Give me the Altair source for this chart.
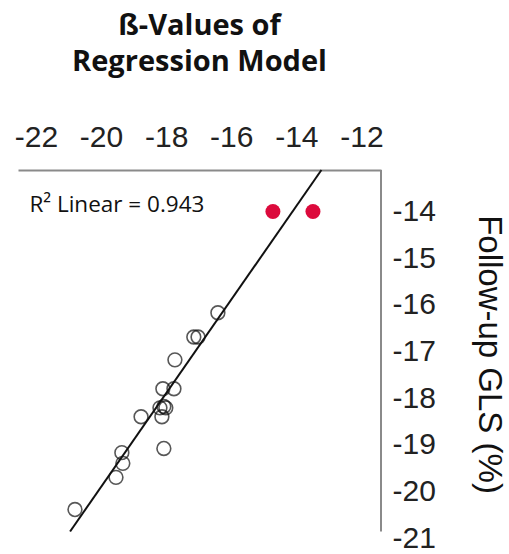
import altair as alt
import pandas as pd

# Baseline vs follow-up values (hollow markers)
base_x = [-16.41, -17.15, -17.02, -17.73, -18.10, -17.76, -18.07, -18.19,
          -18.01, -18.13, -18.77, -18.07, -19.36, -19.33, -19.54, -20.80]
follow_y = [-16.17, -16.69, -16.69, -17.18, -17.80, -17.80, -18.18, -18.21,
            -18.21, -18.40, -18.40, -19.08, -19.17, -19.40, -19.70, -20.39]

# Highlighted cases (filled red markers)
red_x = [-14.72, -13.49]
red_y = [-14.0, -14.0]

# Linear fit line endpoints
fit_x = [-20.95, -13.23]
fit_y = [-20.86, -13.11]

x_ticks = [-22, -20, -18, -16, -14, -12]
y_ticks = [-14, -15, -16, -17, -18, -19, -20, -21]
x_domain = [-22.55, -11.4]
y_domain = [-21.0, -13.11]
# vertical frame line on the right runs only down to the fit line's end
frame_y = [-13.11, -20.86]

r2_text = "R² Linear = 0.943"
r2_pos = (-22.2, -13.87)

pts = pd.DataFrame({"x": base_x, "y": follow_y})
red = pd.DataFrame({"x": red_x, "y": red_y})
fit = pd.DataFrame({"x": fit_x, "y": fit_y})
lab = pd.DataFrame({"x": [r2_pos[0]], "y": [r2_pos[1]], "t": [r2_text]})
frame = pd.DataFrame({"x": [x_domain[1]], "y": [frame_y[0]], "y2": [frame_y[1]]})

xs = alt.Scale(domain=x_domain, nice=False, zero=False)
ys = alt.Scale(domain=y_domain, nice=False, zero=False)

x_axis = alt.Axis(orient="top", values=x_ticks, title=None, grid=False,
                  ticks=False, tickSize=0, labelPadding=18,
                  labelExpr="'' + datum.value",
                  labelFont="Liberation Sans", labelFontSize=30,
                  labelColor="#222222", domainColor="#8a8a8a",
                  domainWidth=2)
y_axis = alt.Axis(orient="right", values=y_ticks, title="Follow-up GLS (%)",
                  grid=False, ticks=False, tickSize=0, labelPadding=11,
                  labelExpr="'' + datum.value", domain=False,
                  labelFont="Liberation Sans", labelFontSize=30,
                  labelColor="#222222", titleFont="Liberation Sans",
                  titleFontSize=33, titleFontWeight="normal",
                  titleColor="#111111", titlePadding=36)

X = alt.X("x:Q", scale=xs, axis=x_axis)
Y = alt.Y("y:Q", scale=ys, axis=y_axis)

edge = alt.Chart(frame).mark_rule(color="#8a8a8a", strokeWidth=2).encode(
    x=X, y=Y, y2="y2:Q")
line = alt.Chart(fit).mark_line(color="#111111", strokeWidth=2).encode(x=X, y=Y)
hollow = alt.Chart(pts).mark_point(shape="circle", filled=False,
                                   color="#111111", size=190,
                                   strokeWidth=1.6).encode(x=X, y=Y)
filled = alt.Chart(red).mark_point(shape="circle", filled=True,
                                   color="#dc0a3c", opacity=1,
                                   size=225).encode(x=X, y=Y)
r2 = alt.Chart(lab).mark_text(align="left", baseline="middle",
                              font="Open Sans", fontSize=22.5,
                              color="#111111").encode(x=X, y=Y, text="t:N")

chart = alt.layer(edge, line, hollow, filled, r2).properties(
    width=363, height=368,
    background="white",
    title=alt.TitleParams(["ß-Values of", "Regression Model"],
                          font="Open Sans", fontSize=29, fontWeight="bold",
                          color="#111111", anchor="middle", lineHeight=36,
                          offset=45),
    autosize=alt.AutoSizeParams(type="none"),
    padding={"left": 18, "top": 170, "right": 128, "bottom": 16},
).configure_view(strokeWidth=0, stroke="transparent")

chart.save("out.html", embed_options={"renderer": "svg", "actions": False})
